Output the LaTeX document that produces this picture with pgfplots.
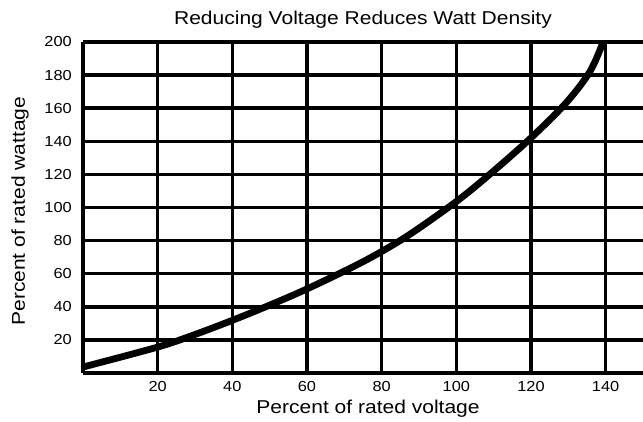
\documentclass[border=0pt]{standalone}
\usepackage{fontspec}
\setmainfont{Liberation Sans}[FakeStretch=1.13]
\usepackage{pgfplots}
\pgfplotsset{compat=1.18}
\begin{document}
\begin{tikzpicture}
\begin{axis}[
  scale only axis, width=560pt, height=331pt,
  xmin=0, xmax=150, ymin=0, ymax=200,
  axis lines=left, axis line style={-, line width=3.8pt, black},
  xtick={20,40,...,140}, ytick={20,40,...,200},
  major tick length=0pt,
  grid=major, major grid style={line width=3.4pt, black},
  /pgf/number format/assume math mode=true,
  tick label style={font=\fontsize{14.5}{16}\selectfont},
  xticklabel style={anchor=base, yshift=-18.5pt, inner sep=0pt},
  yticklabel style={anchor=east, inner sep=0pt, xshift=-11pt},
  title={Reducing Voltage Reduces Watt Density},
  title style={at={(axis description cs:0.5,1.034)}, anchor=base, inner sep=0pt, font=\fontsize{18.6}{22}\selectfont},
  xlabel={Percent of rated voltage},
  xlabel style={at={(axis description cs:0.509,-0.121)}, anchor=base, inner sep=0pt, font=\fontsize{18.6}{22}\selectfont},
  ylabel={Percent of rated wattage},
  ylabel style={at={(axis description cs:-0.1036,0.489)}, rotate=0, anchor=base, inner sep=0pt, font=\fontsize{18.6}{22}\selectfont},
]
\addplot[black, line width=6.8pt, smooth, tension=0.55] coordinates {
(0,3.6) (19.6,15.4) (28.7,22.2) (39.3,31.2) (50,41.0) (59.9,50.7) (72.1,63.9) (79.9,73.3) (88.1,84.6) (100.4,104.3) (109.5,121.1) (120.1,142.3) (129.5,163.5) (135.8,182.2) (139.3,200)
};
\end{axis}
\pgfresetboundingbox
\path[use as bounding box] ([shift={(-83pt,-48pt)}]current axis.south west) rectangle ++(643pt,421pt);
\end{tikzpicture}
\end{document}
